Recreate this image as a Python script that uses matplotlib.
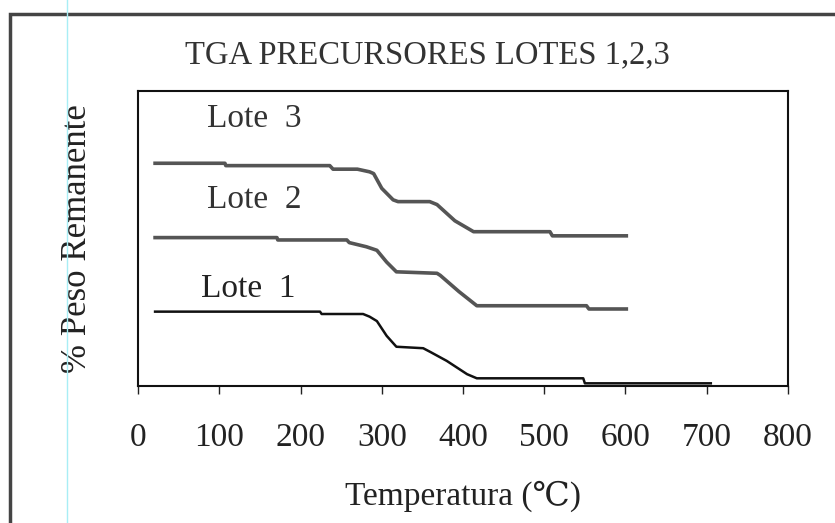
import matplotlib.pyplot as plt
from matplotlib.patches import Rectangle
from matplotlib.lines import Line2D

# Temperatura (C) y peso remanente (escala relativa)
T_LOTE3 = [21, 107, 108, 236, 240, 270, 285, 290, 300, 314, 320, 359, 368, 390, 413, 507, 510, 601]
W_LOTE3 = [75.5, 75.5, 74.7, 74.7, 73.5, 73.5, 72.6, 72.0, 67.0, 63.1, 62.5, 62.5, 61.5, 56.0, 52.3, 52.3, 50.9, 50.9]

T_LOTE2 = [21, 171, 172, 257, 260, 281, 294, 306, 318, 368, 372, 395, 417, 552, 555, 601]
W_LOTE2 = [50.3, 50.3, 49.5, 49.5, 48.6, 47.2, 46.0, 42.0, 38.7, 38.2, 37.5, 32.0, 27.2, 27.2, 26.1, 26.1]

T_LOTE1 = [21, 224, 226, 277, 285, 294, 306, 318, 351, 360, 380, 405, 417, 548, 550, 705]
W_LOTE1 = [25.2, 25.2, 24.4, 24.4, 23.5, 22.0, 17.0, 13.3, 12.8, 11.5, 8.5, 4.0, 2.6, 2.6, 0.9, 0.9]

X_TICKS = [0, 100, 200, 300, 400, 500, 600, 700, 800]

SERIF = ['Liberation Serif', 'DejaVu Serif']
plt.rcParams['font.family'] = SERIF

fig = plt.figure(figsize=(8.35, 5.23), dpi=100)
ax = fig.add_axes([0.1653, 0.262, 0.7784, 0.564])

ax.plot(T_LOTE3, W_LOTE3, color='#555555', lw=2.6)
ax.plot(T_LOTE2, W_LOTE2, color='#555555', lw=2.6)
ax.plot(T_LOTE1, W_LOTE1, color='#111111', lw=1.8)

ax.text(85, 87.8, 'Lote  3', fontsize=24, color='#333333')
ax.text(85, 60.3, 'Lote  2', fontsize=24, color='#333333')
ax.text(78, 30.2, 'Lote  1', fontsize=24, color='#222222')

ax.set_xlim(0, 800)
ax.set_ylim(0, 100)
ax.set_xticks(X_TICKS)
ax.set_xticklabels([str(t) for t in X_TICKS])
ax.set_yticks([])
ax.tick_params(axis='x', direction='out', length=6, width=1, pad=20,
               labelsize=24, colors='#222222')
for s in ax.spines.values():
    s.set_linewidth(1.5)
    s.set_color('#111111')

ax.set_xlabel('Temperatura (℃)', fontsize=24, labelpad=20, color='#222222')
ax.set_ylabel('% Peso Remanente', fontsize=25, labelpad=32, color='#222222')
fig.text(0.512, (523 - 63) / 523, 'TGA PRECURSORES LOTES 1,2,3', ha='center',
         va='baseline', fontsize=23.5, color='#333333')

# marco exterior y linea de margen del escaneo
fig.patches.append(Rectangle((10 / 835, -0.05), 1.1, 0.05 + (523 - 14) / 523,
                             transform=fig.transFigure, fill=False,
                             lw=2.5, edgecolor='#444444'))
fig.lines.append(Line2D([67 / 835, 67 / 835], [0, 1], transform=fig.transFigure,
                        color='#a8eef5', lw=1))

fig.savefig('out.png', dpi=100)
